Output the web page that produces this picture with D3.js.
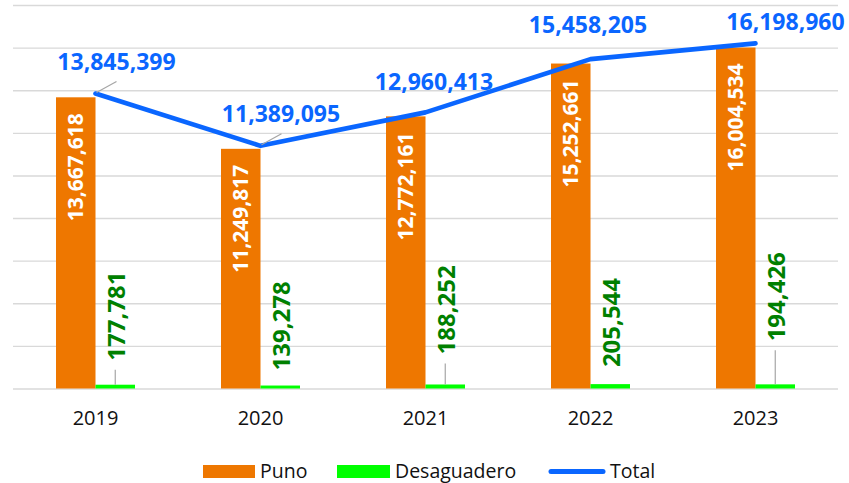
<!DOCTYPE html>
<html>
<head>
<meta charset="utf-8">
<script src="https://cdn.jsdelivr.net/npm/d3@7"></script>
<style>
  html, body { margin: 0; padding: 0; background: #ffffff; }
  svg { display: block; font-family: "Open Sans", "Noto Sans", sans-serif; }
</style>
</head>
<body>
<svg id="chart" width="849" height="483"></svg>
<script>
// ---- data ----
const categories = ["2019", "2020", "2021", "2022", "2023"];
const puno = [13667618, 11249817, 12772161, 15252661, 16004534];
const desaguadero = [177781, 139278, 188252, 205544, 194426];
const total = [13845399, 11389095, 12960413, 15458205, 16198960];
const yTicks = [0, 2000000, 4000000, 6000000, 8000000, 10000000, 12000000, 14000000, 16000000, 18000000];
const seriesNames = ["Puno", "Desaguadero", "Total"];

// ---- style / layout ----
const colors = { Puno: "#EE7700", Desaguadero: "#00FF00", Total: "#0A66FF" };
const greenText = "#008000";
const fmt = d3.format(",");

const svg = d3.select("#chart");
const plot = { left: 13, right: 838, top: 5, bottom: 388.5 };

const x = d3.scaleBand().domain(categories).range([plot.left, plot.right]).paddingInner(0).paddingOuter(0);
const x1 = d3.scaleBand().domain(["Puno", "Desaguadero"]).range([-39.5, 39.5]);
const y = d3.scaleLinear().domain([0, 18000000]).range([plot.bottom, plot.top]);
const cx = c => x(c) + x.bandwidth() / 2;

// gridlines
const yAxis = d3.axisLeft(y).tickValues(yTicks).tickSize(-(plot.right - plot.left)).tickFormat("");
const gy = svg.append("g").attr("transform", `translate(${plot.left},0)`).call(yAxis);
gy.select(".domain").remove();
gy.selectAll(".tick line").attr("stroke", "#d9d9d9").attr("stroke-width", 1.4);

// x axis labels
const xAxis = d3.axisBottom(x).tickSize(0).tickPadding(22);
const gx = svg.append("g").attr("transform", `translate(0,${plot.bottom})`).call(xAxis);
gx.select(".domain").remove();
gx.selectAll(".tick text")
  .attr("font-family", "'Open Sans', sans-serif")
  .attr("font-size", 20).attr("fill", "#111");

// bars
const barData = [];
categories.forEach((c, i) => {
  barData.push({ c, s: "Puno", v: puno[i], i });
  barData.push({ c, s: "Desaguadero", v: desaguadero[i], i });
});
svg.append("g").selectAll("rect").data(barData).join("rect")
  .attr("x", d => cx(d.c) + x1(d.s))
  .attr("width", x1.bandwidth())
  .attr("y", d => y(d.v))
  .attr("height", d => y(0) - y(d.v))
  .attr("fill", d => colors[d.s]);

// Puno labels (white, rotated, inside top)
svg.append("g").selectAll("text").data(categories).join("text")
  .attr("transform", (c, i) => `translate(${cx(c) + x1("Puno") + x1.bandwidth() / 2},${y(puno[i]) + 16}) rotate(-90)`)
  .attr("text-anchor", "end")
  .attr("dy", "0.36em")
  .attr("font-size", 21).attr("font-weight", 700).attr("fill", "#ffffff")
  .text((c, i) => fmt(puno[i]));

// Desaguadero labels (green, rotated, above bar with leader)
const greenLift = [24, 15, 30, 17, 43];
const gg = svg.append("g");
categories.forEach((c, i) => {
  const gxp = cx(c) + x1("Desaguadero") + x1.bandwidth() / 2;
  const top = y(desaguadero[i]);
  const bottomY = top - greenLift[i];
  if (greenLift[i] > 18) {
    gg.append("line").attr("x1", gxp).attr("x2", gxp)
      .attr("y1", bottomY + 9).attr("y2", top)
      .attr("stroke", "#a6a6a6").attr("stroke-width", 1.2);
  }
  gg.append("text")
    .attr("transform", `translate(${gxp + 1},${bottomY}) rotate(-90)`)
    .attr("text-anchor", "start").attr("dy", "0.36em")
    .attr("font-size", 24).attr("font-weight", 700).attr("fill", greenText)
    .text(fmt(desaguadero[i]));
});

// total line
const line = d3.line().x((d, i) => cx(categories[i])).y(d => y(d));
svg.append("path").datum(total)
  .attr("d", line).attr("fill", "none")
  .attr("stroke", colors.Total).attr("stroke-width", 4.6)
  .attr("stroke-linecap", "round").attr("stroke-linejoin", "round");

// total labels
const totalOff = [[21, -23.6], [20.5, -24], [8.5, -22], [-2.5, -26], [30, -13]];
const leaders = [true, true, false, false, false];
const tg = svg.append("g");
categories.forEach((c, i) => {
  const px = cx(c), py = y(total[i]);
  if (leaders[i]) {
    tg.append("line").attr("x1", px + 1).attr("y1", py - 1)
      .attr("x2", px + 21).attr("y2", py - 12)
      .attr("stroke", "#a6a6a6").attr("stroke-width", 1.2);
  }
  tg.append("text")
    .attr("x", px + totalOff[i][0]).attr("y", py + totalOff[i][1])
    .attr("text-anchor", "middle")
    .attr("font-size", 23).attr("font-weight", 700).attr("fill", colors.Total)
    .text(fmt(total[i]));
});

// legend
const lg = svg.append("g");
const legendItems = [
  { name: seriesNames[0], x: 203, type: "rect", w: 52 },
  { name: seriesNames[1], x: 337, type: "rect", w: 53 },
  { name: seriesNames[2], x: 549, type: "line", w: 56 }
];
legendItems.forEach(it => {
  if (it.type === "rect") {
    lg.append("rect").attr("x", it.x).attr("y", 465).attr("width", it.w).attr("height", 13)
      .attr("fill", colors[it.name]);
  } else {
    lg.append("line").attr("x1", it.x + 2).attr("x2", it.x + it.w - 2)
      .attr("y1", 471.5).attr("y2", 471.5)
      .attr("stroke", colors.Total).attr("stroke-width", 5).attr("stroke-linecap", "round");
  }
  lg.append("text").attr("x", it.x + it.w + 5).attr("y", 477.5)
    .attr("font-size", 19.5).attr("fill", "#111").text(it.name);
});
</script>
</body>
</html>
